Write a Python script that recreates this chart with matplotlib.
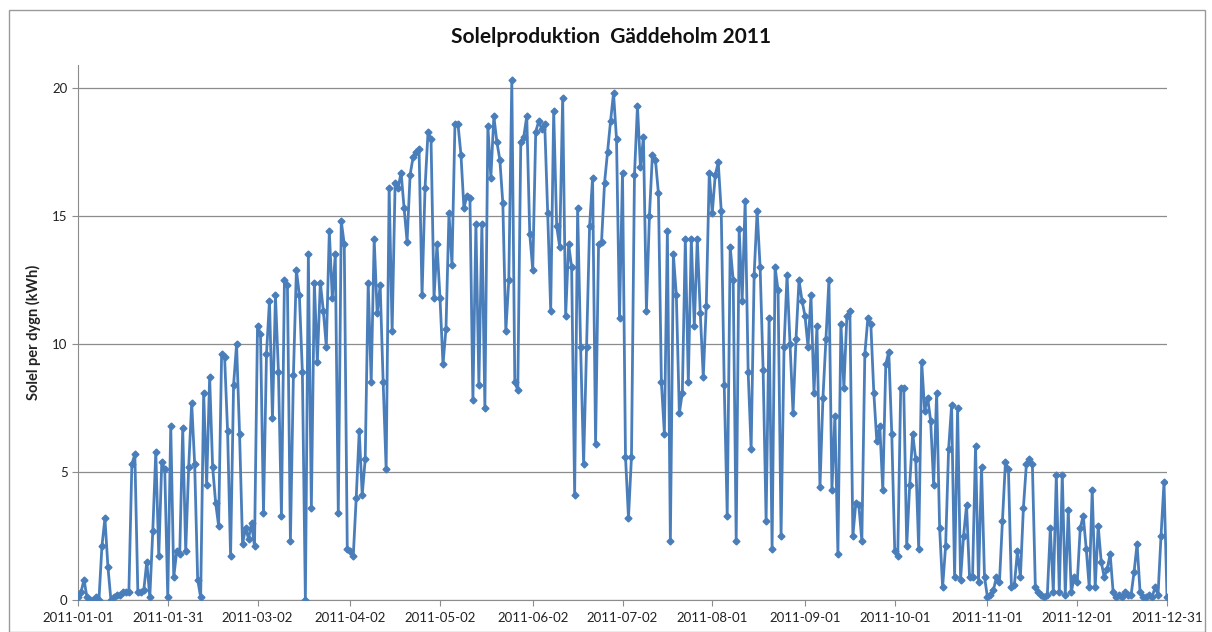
import numpy as np
import pandas as pd
import matplotlib
matplotlib.use("Agg")
import matplotlib.pyplot as plt
import matplotlib.dates as mdates
from matplotlib.patches import Rectangle

# daily solar production (kWh), 2011-01-01 .. 2011-12-31
solel = [
    # jan
    0.1, 0.3, 0.8, 0.1, 0.0, 0.0, 0.1, 0.0, 2.1, 3.2, 1.3, 0.0, 0.1, 0.2, 0.2, 0.3,
    0.3, 0.3, 5.3, 5.7, 0.3, 0.3, 0.4, 1.5, 0.1, 2.7, 5.8, 1.7, 5.4, 5.1, 0.1,
    # feb
    6.8, 0.9, 1.9, 1.8, 6.7, 1.9, 5.2, 7.7, 5.3, 0.8, 0.1, 8.1, 4.5, 8.7, 5.2, 3.8,
    2.9, 9.6, 9.5, 6.6, 1.7, 8.4, 10.0, 6.5, 2.2, 2.8, 2.4, 3.0,
    # mar
    2.1, 10.7, 10.4, 3.4, 9.6, 11.7, 7.1, 11.9, 8.9, 3.3, 12.5, 12.3, 2.3, 8.8, 12.9,
    11.9, 8.9, 0.0, 13.5, 3.6, 12.4, 9.3, 12.4, 11.3, 9.9, 14.4, 11.8, 13.5, 3.4,
    14.8, 13.9,
    # apr
    2.0, 1.9, 1.7, 4.0, 6.6, 4.1, 5.5, 12.4, 8.5, 14.1, 11.2, 12.3, 8.5, 5.1, 16.1,
    10.5, 16.3, 16.1, 16.7, 15.3, 14.0, 16.6, 17.3, 17.5, 17.6, 11.9, 16.1, 18.3,
    18.0, 11.8,
    # may
    13.9, 11.8, 9.2, 10.6, 15.1, 13.1, 18.6, 18.6, 17.4, 15.3, 15.8, 15.7, 7.8, 14.7,
    8.4, 14.7, 7.5, 18.5, 16.5, 18.9, 17.9, 17.2, 15.5, 10.5, 12.5, 20.3, 8.5, 8.2,
    17.9, 18.1, 18.9,
    # jun
    14.3, 12.9, 18.3, 18.7, 18.4, 18.6, 15.1, 11.3, 19.1, 14.6, 13.8, 19.6, 11.1,
    13.9, 13.0, 4.1, 15.3, 9.9, 5.3, 9.9, 14.6, 16.5, 6.1, 13.9, 14.0, 16.3, 17.5,
    18.7, 19.8, 18.0,
    # jul
    11.0, 16.7, 5.6, 3.2, 5.6, 16.6, 19.3, 16.9, 18.1, 11.3, 15.0, 17.4, 17.2, 15.9,
    8.5, 6.5, 14.4, 2.3, 13.5, 11.9, 7.3, 8.1, 14.1, 8.5, 14.1, 10.7, 14.1, 11.2,
    8.7, 11.5, 16.7,
    # aug
    15.1, 16.6, 17.1, 15.2, 8.4, 3.3, 13.8, 12.5, 2.3, 14.5, 11.7, 15.6, 8.9, 5.9,
    12.7, 15.2, 13.0, 9.0, 3.1, 11.0, 2.0, 13.0, 12.1, 2.5, 9.9, 12.7, 10.0, 7.3,
    10.2, 12.5, 11.7,
    # sep
    11.1, 9.9, 11.9, 8.1, 10.7, 4.4, 7.9, 10.2, 12.5, 4.3, 7.2, 1.8, 10.8, 8.3, 11.1,
    11.3, 2.5, 3.8, 3.7, 2.3, 9.6, 11.0, 10.8, 8.1, 6.2, 6.8, 4.3, 9.2, 9.7, 6.5,
    # oct
    1.9, 1.7, 8.3, 8.3, 2.1, 4.5, 6.5, 5.5, 2.0, 9.3, 7.4, 7.9, 7.0, 4.5, 8.1, 2.8,
    0.5, 2.1, 5.9, 7.6, 0.9, 7.5, 0.8, 2.5, 3.7, 0.9, 0.9, 6.0, 0.7, 5.2, 0.9,
    # nov
    0.1, 0.2, 0.4, 0.9, 0.7, 3.1, 5.4, 5.1, 0.5, 0.6, 1.9, 0.9, 3.6, 5.3, 5.5, 5.3,
    0.5, 0.3, 0.2, 0.1, 0.2, 2.8, 0.3, 4.9, 0.3, 4.9, 0.2, 3.5, 0.3, 0.9,
    # dec
    0.7, 2.8, 3.3, 2.0, 0.5, 4.3, 0.5, 2.9, 1.5, 0.9, 1.2, 1.8, 0.3, 0.1, 0.2, 0.1,
    0.3, 0.2, 0.2, 1.1, 2.2, 0.3, 0.1, 0.1, 0.2, 0.1, 0.5, 0.2, 2.5, 4.6, 0.1,
]
dates = pd.date_range("2011-01-01", periods=len(solel), freq="D")

tick_dates = ["2011-01-01", "2011-01-31", "2011-03-02", "2011-04-02", "2011-05-02",
              "2011-06-02", "2011-07-02", "2011-08-01", "2011-09-01", "2011-10-01",
              "2011-11-01", "2011-12-01", "2011-12-31"]
y_ticks = [0, 5, 10, 15, 20]

plt.rcParams["font.family"] = ["Lato", "DejaVu Sans"]

W, H = 1212, 632
fig = plt.figure(figsize=(W / 100, H / 100), dpi=100)
fig.patches.append(Rectangle((9 / W, 0), 1196 / W, (H - 10) / H, transform=fig.transFigure,
                             fill=False, edgecolor="#9a9a9a", lw=1.0))

ax = fig.add_axes([78 / W, 32 / H, 1089 / W, 535 / H])
ax.plot(dates, solel, color="#4a7ebb", lw=2.0, marker="D", ms=3.5,
        mfc="#4a7ebb", mec="#4a7ebb", zorder=3)

ax.set_xlim(dates[0], dates[-1])
ax.set_ylim(0, 20.9)
ax.set_yticks(y_ticks)
ax.set_xticks(pd.to_datetime(tick_dates))
ax.xaxis.set_major_formatter(mdates.DateFormatter("%Y-%m-%d"))
ax.grid(axis="y", color="#8c8c8c", lw=0.9)
ax.set_axisbelow(True)
for s in ("top", "right"):
    ax.spines[s].set_visible(False)
for s in ("left", "bottom"):
    ax.spines[s].set_color("#8c8c8c")
ax.tick_params(axis="both", colors="#8c8c8c", labelcolor="#222222", labelsize=9.5, length=4)
ax.tick_params(axis="x", pad=5)

ax.set_ylabel("Solel per dygn (kWh)", fontsize=10.5, fontweight="bold", color="#222222",
              labelpad=8)
fig.text(611 / W, 1 - 37 / H, "Solelproduktion  Gäddeholm 2011",
         ha="center", va="center", fontsize=15, fontweight="bold", color="#111111")

fig.savefig("out.png", dpi=100)
